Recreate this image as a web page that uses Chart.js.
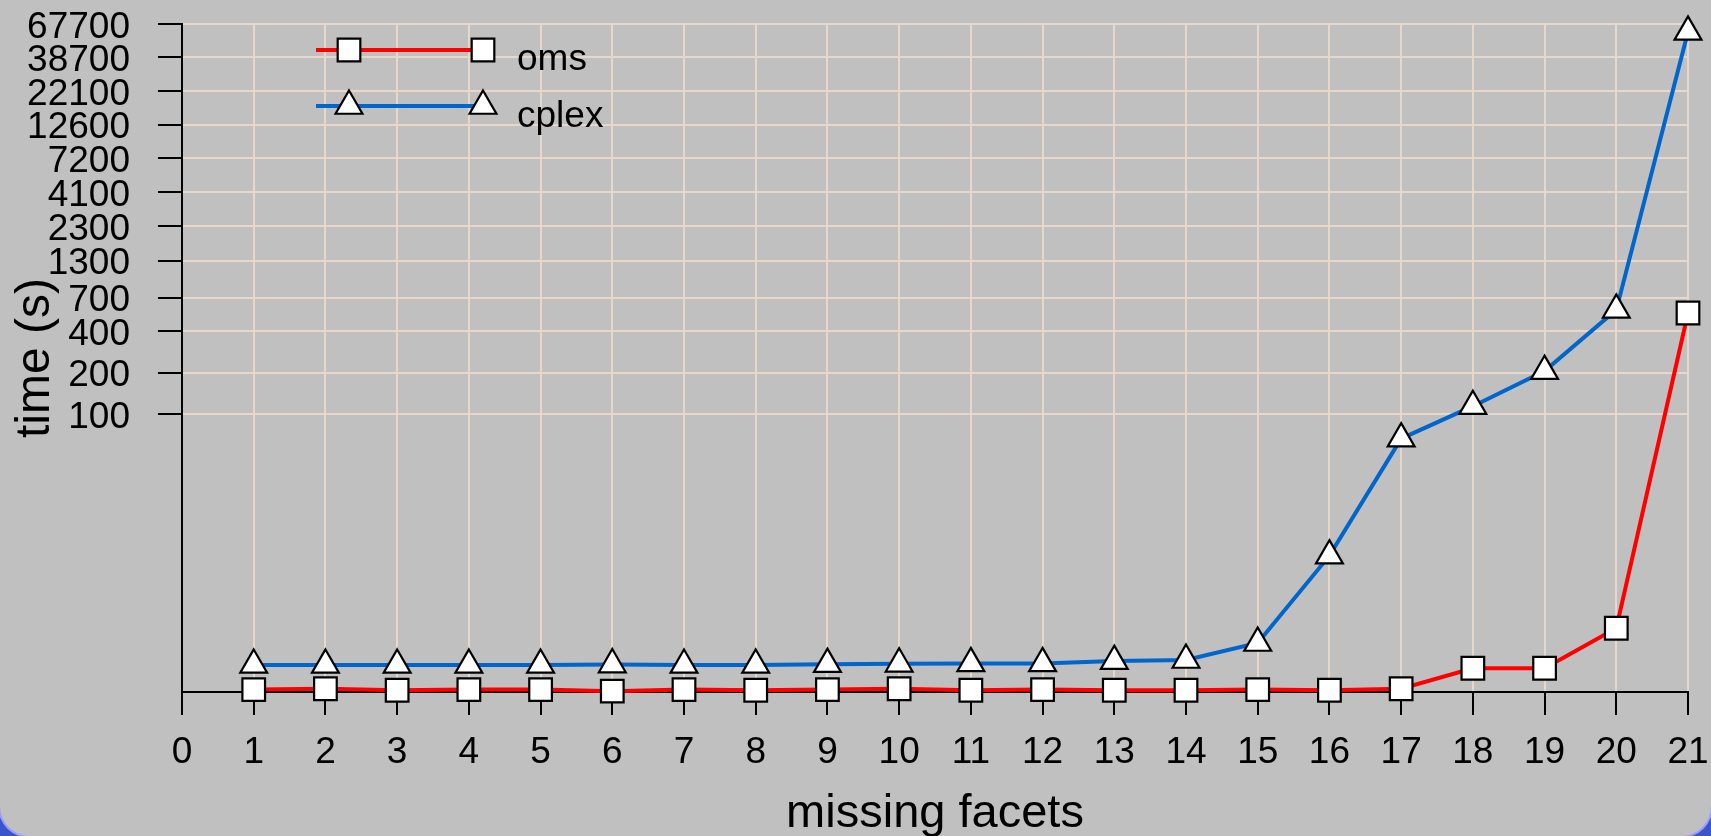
<!DOCTYPE html>
<html>
<head>
<meta charset="utf-8">
<title>time vs missing facets</title>
<script src="https://cdn.jsdelivr.net/npm/chart.js@4/dist/chart.umd.min.js"></script>
<style>
  html, body { margin: 0; padding: 0; background: #3a55cc; overflow: hidden; }
  #frame {
    position: relative; width: 1711px; height: 836px; background: #c0c0c0;
    border-radius: 0 0 30px 30px; box-shadow: 0 0 0 2px #9a9cff;
  }
  canvas { display: block; }
</style>
</head>
<body>
<div id="frame"><canvas id="chart" width="1711" height="836"></canvas></div>
<script>
// number of missing facets
const facets = [1, 2, 3, 4, 5, 6, 7, 8, 9, 10, 11, 12, 13, 14, 15, 16, 17, 18, 19, 20, 21];
// solve time in seconds
const omsTimes = [1.0, 1.015, 0.99, 1.0, 1.0, 0.975, 1.0, 0.99, 1.0, 1.015, 0.99, 1.0, 0.99, 0.99,
                  1.0, 0.99, 1.015, 1.43, 1.43, 2.79, 541];
const cplexTimes = [1.51, 1.51, 1.51, 1.51, 1.51, 1.52, 1.51, 1.51, 1.53, 1.54, 1.55, 1.55, 1.61, 1.64,
                    2.18, 9.38, 66.3, 114, 205, 570, 59400];
const seriesNames = ['oms', 'cplex'];
const xTickValues = [0, 1, 2, 3, 4, 5, 6, 7, 8, 9, 10, 11, 12, 13, 14, 15, 16, 17, 18, 19, 20, 21];
const yTickValues = [100, 200, 400, 700, 1300, 2300, 4100, 7200, 12600, 22100, 38700, 67700];
const yMin = 0.961;
const yMax = 67700;

const FONT = '"Liberation Sans", Arial, Helvetica, sans-serif';
const GRID = '#e8d8cc';
Chart.defaults.font.family = FONT;
Chart.defaults.color = '#000';

const toPoints = vals => facets.map((f, i) => ({ x: f, y: vals[i] }));

// fixed axis box sizes, no extra room reserved for edge labels
const fixBox = (size, key) => s => {
  s[key] = size;
  s.paddingTop = 0; s.paddingBottom = 0; s.paddingLeft = 0; s.paddingRight = 0;
};

// Legend: a short line with a marker near each end, then the name
const lineLegend = {
  id: 'lineLegend',
  afterDraw(chart) {
    const { ctx, chartArea } = chart;
    const x0 = chartArea.left + 134, m1 = chartArea.left + 167, m2 = chartArea.left + 301;
    const tx = chartArea.left + 335;
    const rows = [
      { ds: chart.data.datasets[0], y: chartArea.top + 26, ty: chartArea.top + 46 },
      { ds: chart.data.datasets[1], y: chartArea.top + 82, ty: chartArea.top + 103 }
    ];
    ctx.save();
    rows.forEach(r => {
      ctx.strokeStyle = r.ds.borderColor;
      ctx.lineWidth = r.ds.borderWidth;
      ctx.beginPath();
      ctx.moveTo(x0, r.y);
      ctx.lineTo(m2, r.y);
      ctx.stroke();
      ctx.fillStyle = '#fff';
      ctx.strokeStyle = '#000';
      ctx.lineWidth = r.ds.pointBorderWidth;
      const opts = { pointStyle: r.ds.pointStyle, radius: r.ds.pointRadius, rotation: 0, borderWidth: r.ds.pointBorderWidth };
      Chart.helpers.drawPoint(ctx, opts, m1, r.y);
      Chart.helpers.drawPoint(ctx, opts, m2, r.y);
      ctx.fillStyle = '#000';
      ctx.font = '37px ' + FONT;
      ctx.textAlign = 'left';
      ctx.textBaseline = 'alphabetic';
      ctx.fillText(r.ds.label, tx, r.ty);
    });
    ctx.restore();
  }
};

new Chart(document.getElementById('chart'), {
  type: 'line',
  data: {
    datasets: [
      {
        label: seriesNames[0], data: toPoints(omsTimes),
        borderColor: '#ff0000', borderWidth: 4,
        pointStyle: 'rect', pointRadius: 16, pointBackgroundColor: '#fff',
        pointBorderColor: '#000', pointBorderWidth: 2.2, clip: false
      },
      {
        label: seriesNames[1], data: toPoints(cplexTimes),
        borderColor: '#0066cc', borderWidth: 4,
        pointStyle: 'triangle', pointRadius: 15.5, pointBackgroundColor: '#fff',
        pointBorderColor: '#000', pointBorderWidth: 2.2, clip: false
      }
    ]
  },
  options: {
    responsive: false,
    animation: false,
    devicePixelRatio: 1,
    elements: { line: { tension: 0 } },
    layout: { autoPadding: false, padding: { top: 24, right: 23, left: 0, bottom: 0 } },
    plugins: { legend: { display: false }, tooltip: { enabled: false } },
    scales: {
      x: {
        type: 'linear', min: 0, max: 21,
        afterBuildTicks: s => { s.ticks = xTickValues.map(v => ({ value: v })); },
        afterFit: fixBox(144, 'height'),
        ticks: { font: { size: 37 }, color: '#000', padding: 16, autoSkip: false, maxRotation: 0 },
        grid: { color: GRID, lineWidth: 2, tickColor: '#000', tickLength: 23, tickWidth: 2 },
        border: { color: '#000', width: 2 },
        title: { display: true, text: 'missing facets', font: { size: 47 }, color: '#000', padding: { top: 0, bottom: -6 } }
      },
      y: {
        type: 'logarithmic', min: yMin, max: yMax,
        afterBuildTicks: s => { s.ticks = yTickValues.map(v => ({ value: v })); },
        afterFit: fixBox(182, 'width'),
        ticks: { font: { size: 37 }, color: '#000', padding: 28, labelOffset: 3.5, autoSkip: false,
                 callback: v => String(v) },
        grid: { color: GRID, lineWidth: 2, tickColor: '#000', tickLength: 24, tickWidth: 2 },
        border: { color: '#000', width: 2 },
        title: { display: true, text: 'time (s)', font: { size: 48 }, color: '#000', padding: { top: 7, bottom: 0 } }
      }
    }
  },
  plugins: [lineLegend]
});
</script>
</body>
</html>
